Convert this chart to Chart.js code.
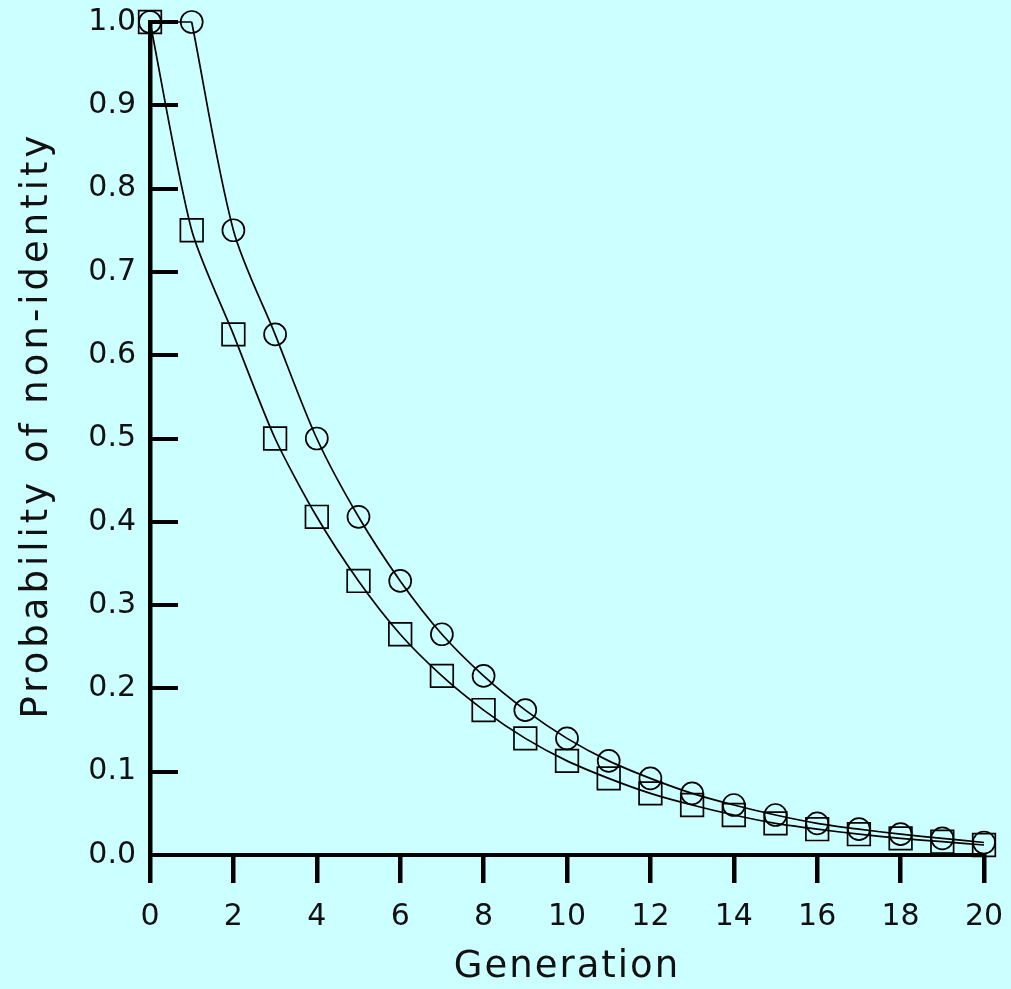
<!DOCTYPE html>
<html>
<head>
<meta charset="utf-8">
<script src="https://cdn.jsdelivr.net/npm/chart.js@4/dist/chart.umd.min.js"></script>
<style>
  html, body { margin: 0; padding: 0; background: #ccffff; }
  #wrap { width: 1011px; height: 989px; }
</style>
</head>
<body>
<div id="wrap"><canvas id="chart"></canvas></div>
<script>
// 世代
const generations = [0, 1, 2, 3, 4, 5, 6, 7, 8, 9, 10, 11, 12, 13, 14, 15, 16, 17, 18, 19, 20];

// 方块系列
const squareValues = [1.0, 0.75, 0.625, 0.5, 0.406, 0.329, 0.265, 0.215, 0.174, 0.140, 0.113,
  0.092, 0.074, 0.060, 0.048, 0.038, 0.031, 0.025, 0.020, 0.016, 0.012];

// 圆圈系列
const circleValues = [1.0, 1.0, 0.75, 0.625, 0.5, 0.406, 0.329, 0.265, 0.215, 0.174, 0.140,
  0.113, 0.092, 0.074, 0.060, 0.048, 0.038, 0.031, 0.025, 0.020, 0.015];

// 刻度
const xTicks = [0, 2, 4, 6, 8, 10, 12, 14, 16, 18, 20];
const yTicks = [0.0, 0.1, 0.2, 0.3, 0.4, 0.5, 0.6, 0.7, 0.8, 0.9, 1.0];

const xTitle = 'Generation';
const yTitle = 'Probability of non-identity';

const FONT = '"DejaVu Sans", sans-serif';

function toPoints(values, from, to) {
  return generations.slice(from, to).map((g, i) => ({ x: g, y: values[from + i] }));
}

// 向内的 y 轴刻度 + 轴标题
const axisExtras = {
  id: 'axisExtras',
  afterDraw(chart) {
    const ctx = chart.ctx;
    const y = chart.scales.y;
    const area = chart.chartArea;
    ctx.save();
    ctx.strokeStyle = '#000';
    ctx.lineWidth = 4;
    ctx.lineCap = 'butt';
    yTicks.forEach(v => {
      const py = Math.round(y.getPixelForValue(v));
      ctx.beginPath();
      ctx.moveTo(area.left - 2, py);
      ctx.lineTo(area.left + 28, py);
      ctx.stroke();
    });

    ctx.fillStyle = '#111';
    ctx.font = '37px ' + FONT;
    ctx.textAlign = 'center';
    ctx.textBaseline = 'middle';
    ctx.letterSpacing = '2px';
    ctx.fillText(xTitle, (area.left + area.right) / 2, 967);

    ctx.translate(37, 425);
    ctx.rotate(-Math.PI / 2);
    ctx.letterSpacing = '4px';
    ctx.fillText(yTitle, 0, 0);
    ctx.restore();
  }
};

const bgPlugin = {
  id: 'bg',
  beforeDraw(chart) {
    const ctx = chart.ctx;
    ctx.save();
    ctx.fillStyle = '#ccffff';
    ctx.fillRect(0, 0, chart.width, chart.height);
    ctx.restore();
  }
};

const lineStyle = {
  borderColor: '#000',
  borderWidth: 1.7,
  pointBorderWidth: 1.7,
  pointBorderColor: '#000',
  pointBackgroundColor: 'rgba(0,0,0,0)',
  clip: false
};

new Chart(document.getElementById('chart'), {
  type: 'line',
  data: {
    datasets: [
      // 圆圈：第0代到第1代是平的
      Object.assign({}, lineStyle, {
        label: 'circles-head',
        data: toPoints(circleValues, 0, 2),
        tension: 0,
        pointStyle: 'circle',
        pointRadius: [11, 0]
      }),
      Object.assign({}, lineStyle, {
        label: 'circles',
        data: toPoints(circleValues, 1),
        tension: 0.3,
        pointStyle: 'circle',
        pointRadius: 11
      }),
      Object.assign({}, lineStyle, {
        label: 'squares',
        data: toPoints(squareValues, 0),
        tension: 0.25,
        pointStyle: 'rect',
        pointRadius: 16
      })
    ]
  },
  options: {
    responsive: true,
    maintainAspectRatio: false,
    animation: false,
    events: [],
    layout: { padding: { top: 22, right: 27, left: 0, bottom: 0 } },
    plugins: {
      legend: { display: false },
      tooltip: { enabled: false }
    },
    scales: {
      x: {
        type: 'linear',
        min: 0,
        max: 20,
        afterFit: s => { s.height = 134; s.paddingLeft = 0; s.paddingRight = 0; },
        afterBuildTicks: s => { s.ticks = xTicks.map(v => ({ value: v })); },
        border: { display: true, color: '#000', width: 4 },
        grid: {
          drawOnChartArea: false,
          drawTicks: true,
          tickLength: 28,
          tickWidth: 4.5,
          lineWidth: 4.5,
          color: '#000'
        },
        ticks: {
          color: '#111',
          font: { family: FONT, size: 30 },
          padding: 16,
          maxRotation: 0,
          callback: v => String(v)
        }
      },
      y: {
        type: 'linear',
        min: 0,
        max: 1,
        afterFit: s => { s.width = 150; s.paddingTop = 0; s.paddingBottom = 0; },
        afterBuildTicks: s => { s.ticks = yTicks.map(v => ({ value: v })); },
        border: { display: true, color: '#000', width: 4.5 },
        grid: { drawOnChartArea: false, drawTicks: false },
        ticks: {
          color: '#111',
          font: { family: FONT, size: 30 },
          padding: 14,
          callback: v => v.toFixed(1)
        }
      }
    }
  },
  plugins: [bgPlugin, axisExtras]
});
</script>
</body>
</html>
